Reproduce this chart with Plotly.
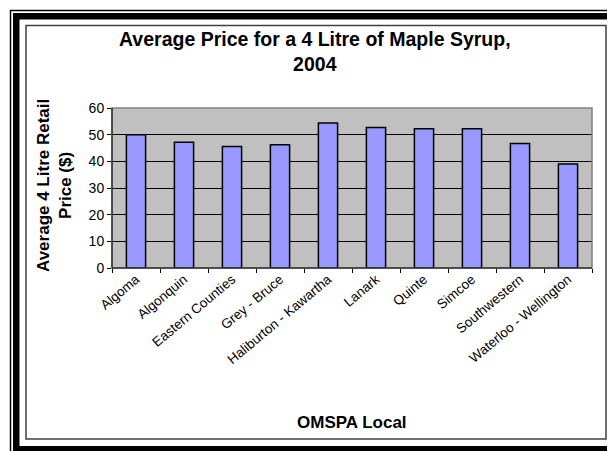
import plotly.graph_objects as go

categories = ["Algoma", "Algonquin", "Eastern Counties", "Grey - Bruce",
              "Haliburton - Kawartha", "Lanark", "Quinte", "Simcoe",
              "Southwestern", "Waterloo - Wellington"]
prices = [50.0, 47.2, 45.6, 46.2, 54.4, 52.7, 52.2, 52.2, 46.7, 39.0]
y_ticks = [0, 10, 20, 30, 40, 50, 60]

# page body adds an 8px margin; work in screen pixels and shift
OFF = 8
W, H = 615 - OFF, 451 - OFF
SL, SR, ST, SB = 112, 592, 108, 268          # plot area in screen px
L, R, T, B = SL - OFF, SR - OFF, ST - OFF, SB - OFF


def px(x):
    return (x - SL) / (SR - SL)


def py(y):
    return (SB - y) / (SB - ST)


FONT = "Arial, Liberation Sans, sans-serif"

fig = go.Figure(go.Bar(
    x=categories, y=prices,
    marker=dict(color="#9999FF", line=dict(color="black", width=1.5)),
))

shapes = []
# outer thin line (top/left)
shapes.append(dict(type="rect", xref="paper", yref="paper",
                   x0=px(10.5), x1=px(640), y0=py(10.5), y1=py(470),
                   line=dict(color="black", width=1.5), fillcolor="rgba(0,0,0,0)"))
# thick frame (top, left, bottom)
shapes.append(dict(type="rect", xref="paper", yref="paper",
                   x0=px(13), x1=px(620), y0=py(13), y1=py(19.5),
                   line=dict(width=0), fillcolor="black"))
shapes.append(dict(type="rect", xref="paper", yref="paper",
                   x0=px(13), x1=px(19.5), y0=py(13), y1=py(460),
                   line=dict(width=0), fillcolor="black"))
shapes.append(dict(type="rect", xref="paper", yref="paper",
                   x0=px(13), x1=px(620), y0=py(446), y1=py(460),
                   line=dict(width=0), fillcolor="black"))
# inner chart border
shapes.append(dict(type="rect", xref="paper", yref="paper",
                   x0=px(26), x1=px(606), y0=py(25.5), y1=py(439),
                   line=dict(color="#404040", width=1.5), fillcolor="rgba(0,0,0,0)"))
# plot area border (gray top/right)
shapes.append(dict(type="rect", xref="paper", yref="paper",
                   x0=0, x1=1, y0=0, y1=1, layer="above",
                   line=dict(color="#808080", width=1.5), fillcolor="rgba(0,0,0,0)"))
# black axis lines left/bottom
shapes.append(dict(type="line", xref="paper", yref="paper",
                   x0=0, x1=0, y0=0, y1=1, layer="above",
                   line=dict(color="black", width=1)))
shapes.append(dict(type="line", xref="paper", yref="paper",
                   x0=0, x1=1, y0=0, y1=0, layer="above",
                   line=dict(color="black", width=1)))

annotations = [
    dict(text="<b>Average Price for a 4 Litre of Maple Syrup,<br>2004</b>",
         xref="paper", yref="paper", x=px(315), y=py(51),
         xanchor="center", yanchor="middle", showarrow=False,
         font=dict(family=FONT, size=19.5, color="black")),
    dict(text="<b>OMSPA Local</b>",
         xref="paper", yref="paper", x=px(352), y=py(422),
         xanchor="center", yanchor="middle", showarrow=False,
         font=dict(family=FONT, size=17, color="black")),
    dict(text="<b>Average 4 Litre Retail<br>Price ($)</b>",
         xref="paper", yref="paper", x=px(54), y=py(186),
         xanchor="center", yanchor="middle", showarrow=False, textangle=-90,
         font=dict(family=FONT, size=17, color="black")),
]

fig.update_layout(
    width=W, height=H,
    margin=dict(l=L, r=W - R, t=T, b=H - B),
    paper_bgcolor="white",
    plot_bgcolor="#C0C0C0",
    bargap=0.6,
    showlegend=False,
    font=dict(family=FONT, color="black", size=13),
    xaxis=dict(
        tickangle=-40,
        tickson="boundaries",
        ticks="outside", ticklen=4, tickcolor="black",
        tickfont=dict(family=FONT, size=13.5, color="black"),
        showgrid=False, zeroline=False,
    ),
    yaxis=dict(
        range=[0, 60],
        tickvals=y_ticks,
        ticks="outside", ticklen=4, tickcolor="black",
        tickfont=dict(family=FONT, size=14, color="black"),
        showgrid=True, gridcolor="black", gridwidth=1,
        zeroline=False,
    ),
    shapes=shapes,
    annotations=annotations,
)

fig.write_html("out.html")
